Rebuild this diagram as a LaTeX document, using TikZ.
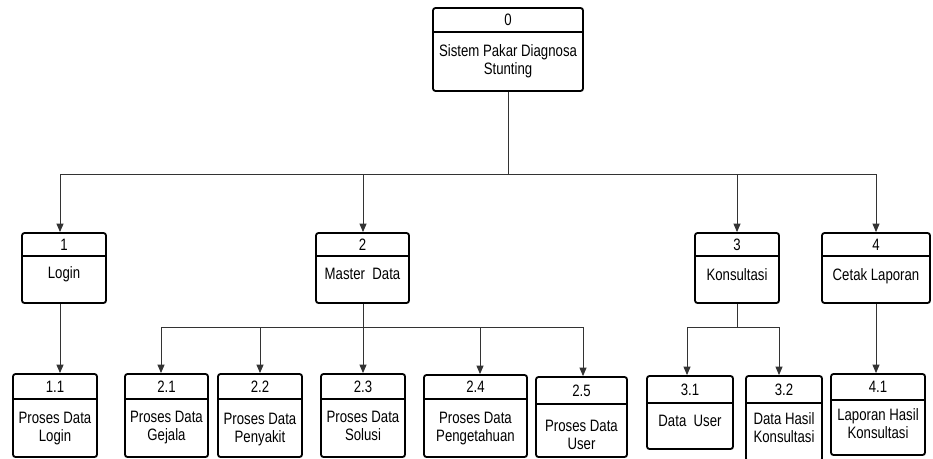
\documentclass[tikz,border=0pt]{standalone}
\usepackage{fontspec}
\setmainfont[FakeStretch=0.8]{Liberation Sans}
\usetikzlibrary{arrows.meta}
\tikzset{
  pbox/.style={draw=black, line width=1.8pt, rounded corners=2.5pt, fill=white, inner sep=0pt},
  pdiv/.style={draw=black, line width=1.6pt},
  ptxt/.style={inner sep=0pt, align=center, font=\fontsize{16.5}{18}\selectfont},
  conn/.style={draw=black!80, line width=1pt},
  arr/.style={conn, -{Triangle[length=8.5pt,width=7pt]}}
}
% #1 name, #2 left, #3 right, #4 top, #5 divider, #6 bottom, #7 number, #8 text, #9 text centre y
\newcommand\procbox[9]{%
  \node[pbox, minimum width={(#3-#2)*1pt}, minimum height={(#6-#4)*1pt}] (#1) at ({(#2+#3)/2},{-(#4+#6)/2}) {};
  \draw[pdiv] (#1.west |- 0,-#5) -- (#1.east |- 0,-#5);
  \node[ptxt] (#1n) at ({(#2+#3)/2},{-(#4+#5)/2}) {#7};
  \node[ptxt] (#1t) at ({(#2+#3)/2},{-#9}) {#8};
}
\begin{document}
\begin{tikzpicture}[x=1pt,y=1pt]
\useasboundingbox[fill=white] (0,0) rectangle (933,-458);
% top
\procbox{b0}{433}{583}{8}{32}{91}{0}{\fontsize{16.5}{21}\selectfont Sistem Pakar Diagnosa\\\fontsize{16.5}{21}\selectfont Stunting}{61}
% level 1
\procbox{b1}{22}{106}{233}{256}{303}{1}{Login}{274}
\procbox{b2}{316}{409}{233}{256}{303}{2}{Master\ \ Data}{274}
\procbox{b3}{695}{779}{233}{256}{303}{3}{Konsultasi}{275}
\procbox{b4}{822}{930}{233}{256}{303}{4}{Cetak Laporan}{276}
% level 2
\procbox{b11}{13}{97}{374}{399}{457}{1.1}{Proses Data\\Login}{429}
\procbox{b21}{125}{208}{374}{399}{457}{2.1}{Proses Data\\Gejala}{428}
\procbox{b22}{218}{302}{374}{399}{457}{2.2}{Proses Data\\Penyakit}{430}
\procbox{b23}{321}{405}{374}{399}{457}{2.3}{Proses Data\\Solusi}{426}
\procbox{b24}{424}{527}{375}{399}{457}{2.4}{Proses Data\\Pengetahuan}{429}
\procbox{b25}{536}{627}{377}{404}{457}{2.5}{Proses Data\\User}{435}
\procbox{b31}{647}{733}{376}{403}{449}{3.1}{Data\ \ User}{421}
\procbox{b32}{746}{822}{376}{403}{461}{3.2}{Data Hasil\\Konsultasi}{428}
\procbox{b41}{831}{925}{374}{400}{455}{4.1}{Laporan Hasil\\Konsultasi}{424}
% connectors from top
\coordinate (j0) at (508,-174);
\draw[conn] (b0.south) -- (j0);
\draw[arr] (j0) -| ([xshift=-4pt]b1.north);
\draw[arr] (j0) -| ([xshift=0.5pt]b2.north);
\draw[arr] (j0) -| (b3.north);
\draw[arr] (j0) -| (b4.north);
% login
\draw[arr] ([xshift=-4pt]b1.south) -- ([xshift=5pt]b11.north);
% master data
\coordinate (j2) at (363,-327);
\draw[conn] ([xshift=0.5pt]b2.south) -- (j2);
\draw[arr] (j2) -| ([xshift=-5.5pt]b21.north);
\draw[arr] (j2) -| (b22.north);
\draw[arr] (j2) -- (b23.north);
\draw[arr] (j2) -| ([xshift=4.5pt]b24.north);
\draw[arr] (j2) -| ([xshift=1.5pt]b25.north);
% konsultasi
\coordinate (j3) at (737,-327);
\draw[conn] (b3.south) -- (j3);
\draw[arr] (j3) -| ([xshift=-3pt]b31.north);
\draw[arr] (j3) -| ([xshift=-5pt]b32.north);
% cetak laporan
\draw[arr] (b4.south) -- ([xshift=-2pt]b41.north);
\end{tikzpicture}
\end{document}
